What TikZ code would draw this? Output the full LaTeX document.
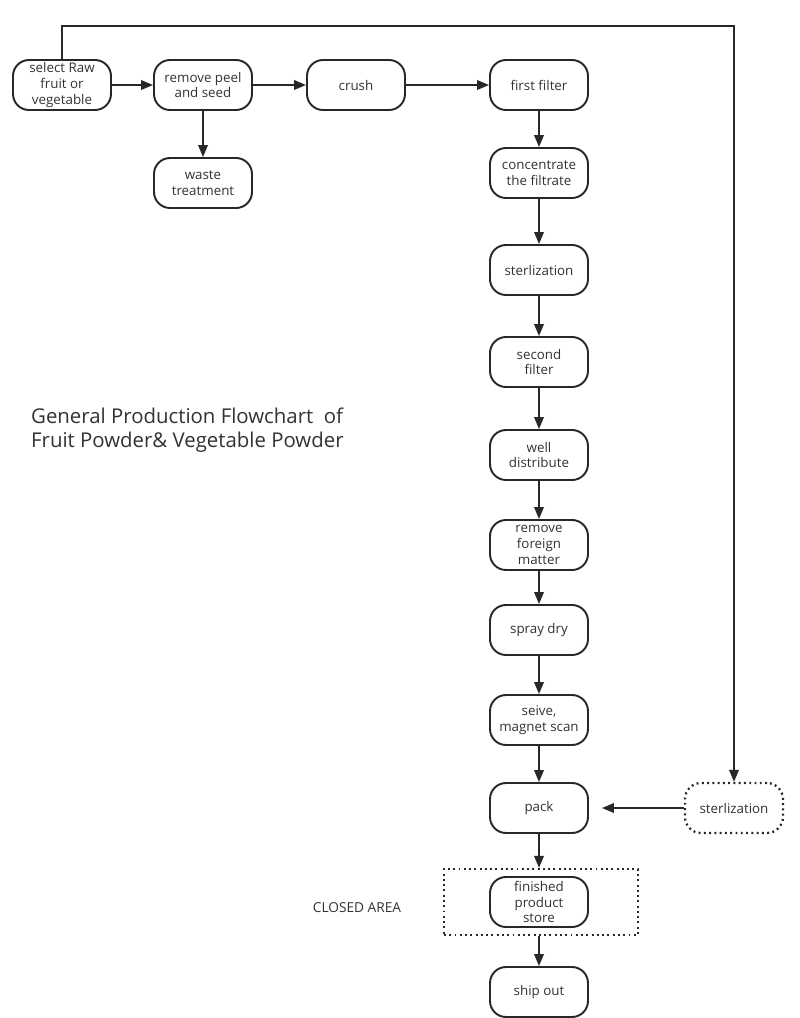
\documentclass[tikz,border=0pt]{standalone}
\usepackage{fontspec}
\setmainfont{Open Sans}
\usetikzlibrary{arrows.meta, positioning}
\definecolor{mydark}{RGB}{40,40,40}
\definecolor{mytext}{RGB}{50,50,50}
\tikzset{
  procbox/.style={rectangle, draw=mydark, text=mytext, minimum width=1.96cm, minimum height=1cm, inner sep=0pt, align=center, font=\fontsize{7.6}{9}\selectfont, rounded corners=0.32cm, line width=1.1pt},
  dotbox/.style={procbox, dash pattern=on 1.1pt off 1.9pt, line width=1.3pt},
  areabox/.style={rectangle, draw=mydark, dash pattern=on 1.1pt off 1.9pt, line width=1.3pt, minimum width=3.88cm, minimum height=1.32cm},
  arrow/.style={-{Triangle[length=0.24cm, width=0.19cm]}, line width=1.1pt, color=mydark},
  line/.style={line width=1.1pt, color=mydark}
}

\begin{document}
\begin{tikzpicture}[x=0.02cm, y=-0.02cm]
  \useasboundingbox (0,0) rectangle (800,1018);

  % Top row
  \node[procbox] (select) at (62,85) {select Raw\\fruit or\\vegetable};
  \node[procbox] (peel) at (203,85) {remove peel\\and seed};
  \node[procbox] (crush) at (356,85) {crush};
  \node[procbox] (filt1) at (539,85) {first filter};
  \node[procbox] (waste) at (203,183) {waste\\treatment};

  % Main column
  \node[procbox] (conc) at (539,173) {concentrate\\the filtrate};
  \node[procbox] (ster1) at (539,270) {sterlization};
  \node[procbox] (filt2) at (539,362) {second\\filter};
  \node[procbox] (distr) at (539,455) {well\\distribute};
  \node[procbox] (foreign) at (539,545) {remove\\foreign\\matter};
  \node[procbox] (spray) at (539,630) {spray dry};
  \node[procbox] (seive) at (539,720) {seive,\\magnet scan};
  \node[procbox] (pack) at (539,808) {pack};
  \node[areabox] (closed) at (541,902) {};
  \node[procbox] (store) at (539,902) {finished\\product\\store};
  \node[procbox] (ship) at (539,992) {ship out};

  % Side branch
  \node[dotbox] (ster2) at (734,808) {sterlization};

  % Labels
  \node[text=mytext, anchor=west, align=left, font=\fontsize{11.6}{13.8}\selectfont] (title) at (25,430) {General Production Flowchart\ \ of\\Fruit Powder\& Vegetable Powder};
  \node[text=mytext, font=\fontsize{7.8}{9}\selectfont] (closedlbl) at (357,908) {CLOSED AREA};

  % Connectors
  \draw[arrow] (select) -- (peel);
  \draw[arrow] (peel) -- (crush);
  \draw[arrow] (crush) -- (filt1);
  \draw[arrow] (peel) -- (waste);
  \draw[arrow] (filt1) -- (conc);
  \draw[arrow] (conc) -- (ster1);
  \draw[arrow] (ster1) -- (filt2);
  \draw[arrow] (filt2) -- (distr);
  \draw[arrow] (distr) -- (foreign);
  \draw[arrow] (foreign) -- (spray);
  \draw[arrow] (spray) -- (seive);
  \draw[arrow] (seive) -- (pack);
  \draw[arrow] (pack) -- (pack |- closed.north);
  \draw[arrow] (closed.south -| ship) -- (ship);
  \draw[arrow, shorten >=0.26cm] (ster2) -- (pack);

  % Loop back
  \draw[arrow] (select.north) -- ++(0,-33) -| (ster2.north);
\end{tikzpicture}
\end{document}
